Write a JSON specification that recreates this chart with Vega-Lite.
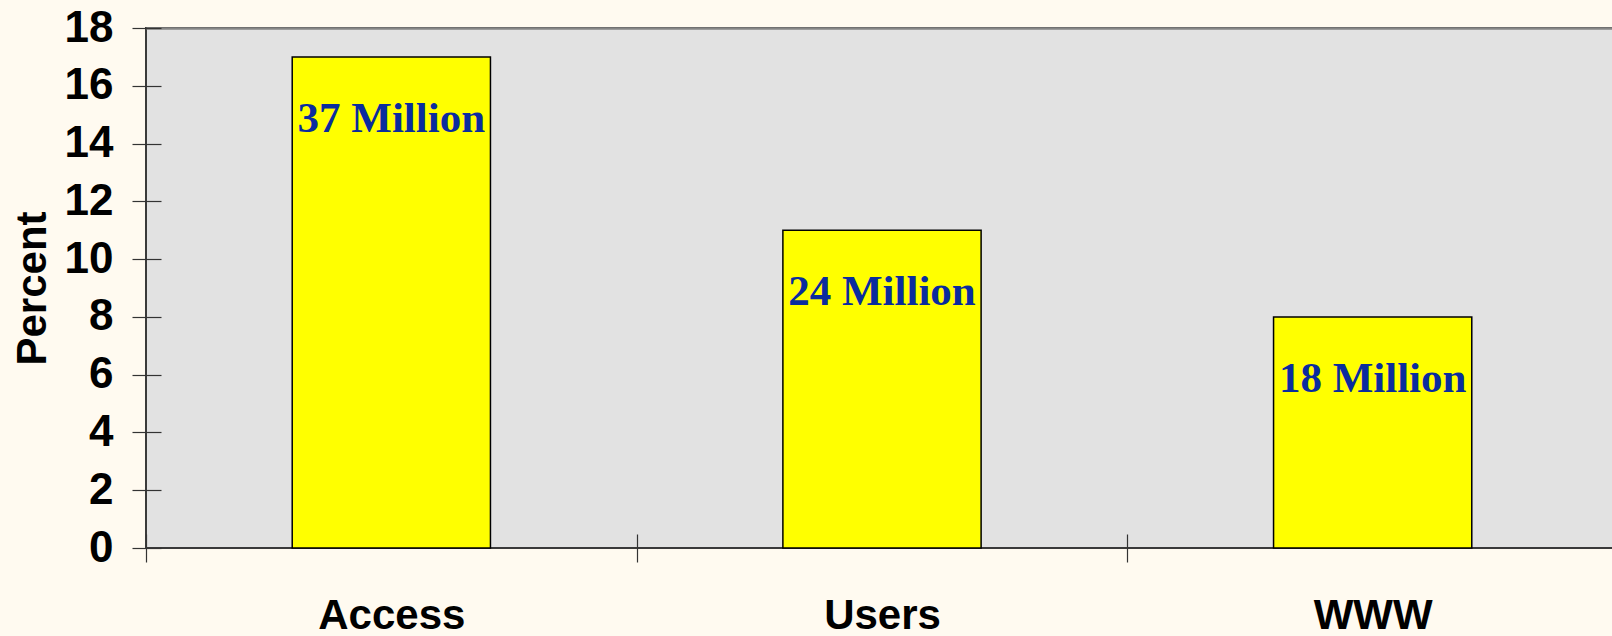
{
  "$schema": "https://vega.github.io/schema/vega-lite/v6.json",
  "autosize": {"type": "none"},
  "padding": {"left": 146, "top": 28, "right": 0, "bottom": 88},
  "width": 1472,
  "height": 520,
  "background": "#fffaf0",
  "config": {
    "view": {"fill": "#e2e2e2", "stroke": "#3a3a3a", "strokeWidth": 2},
    "axis": {"labelFont": "Liberation Sans", "labelFontWeight": "bold", "labelColor": "#000000", "titleFont": "Liberation Sans", "titleFontWeight": "bold", "titleColor": "#000000", "grid": false}
  },
  "data": {"values": [
    {"category": "Access", "percent": 17, "label": "37 Million"},
    {"category": "Users", "percent": 11, "label": "24 Million"},
    {"category": "WWW", "percent": 8, "label": "18 Million"}
  ]},
  "layer": [
    {
      "mark": {"type": "bar", "fill": "#ffff00", "stroke": "#000000", "strokeWidth": 1.5, "width": {"band": 0.404}},
      "encoding": {
        "x": {"field": "category", "type": "nominal", "sort": null,
          "scale": {"paddingInner": 0, "paddingOuter": 0},
          "axis": {"orient": "bottom", "title": null, "labelAngle": 0, "labelFontSize": 42, "labelPadding": 33, "offset": -14, "tickSize": 28, "tickBand": "extent", "tickColor": "#333333", "tickWidth": 1.2, "domain": false}},
        "y": {"field": "percent", "type": "quantitative",
          "scale": {"domain": [0, 18], "nice": false},
          "axis": {"title": "Percent", "titleFontSize": 42, "titlePadding": 10, "values": [0,2,4,6,8,10,12,14,16,18], "labelFontSize": 44, "labelPadding": 19, "offset": -15, "tickSize": 29, "tickColor": "#333333", "tickWidth": 1.2, "domain": false}}
      }
    },
    {
      "mark": {"type": "text", "font": "Liberation Serif", "fontWeight": "bold", "fontSize": 43, "color": "#0a2c9e", "baseline": "middle", "dy": 62},
      "encoding": {
        "x": {"field": "category", "type": "nominal", "sort": null,
          "axis": {"orient": "top", "title": null, "labels": false, "ticks": false, "domainColor": "#858585", "domainWidth": 2.5}},
        "y": {"field": "percent", "type": "quantitative"},
        "text": {"field": "label"}
      }
    }
  ],
  "resolve": {"axis": {"x": "independent"}}
}
